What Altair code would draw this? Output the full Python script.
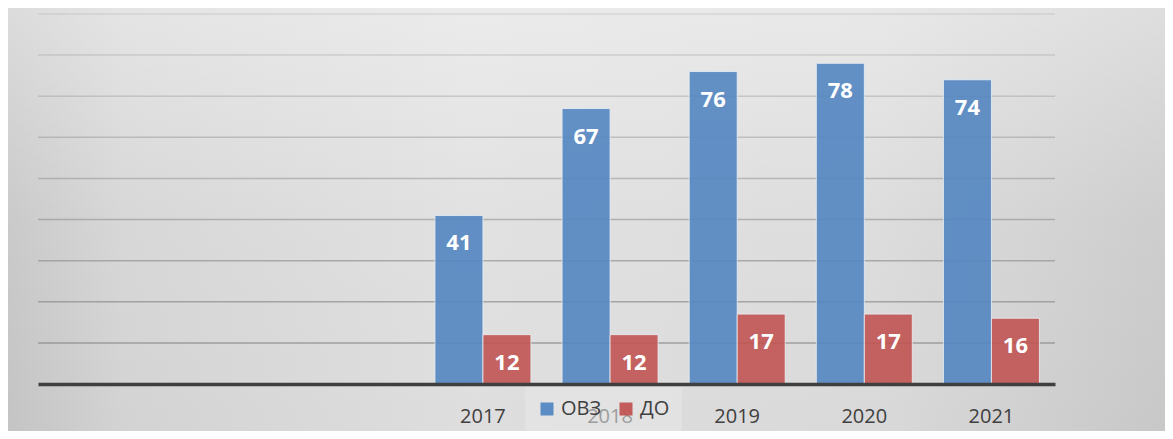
import altair as alt
import pandas as pd

# ---- data ----
slots = ["b1", "b2", "b3", "2017", "2018", "2019", "2020", "2021"]
years = ["2017", "2018", "2019", "2020", "2021"]
ovz = [41, 67, 76, 78, 74]
do_ = [12, 12, 17, 17, 16]
series = ["ОВЗ", "ДО"]
colors = ["#5487c2", "#c15553"]
grid_values = [10, 20, 30, 40, 50, 60, 70, 80, 90]

rows = []
for y, a, b in zip(years, ovz, do_):
    rows.append({"year": y, "s": series[0], "v": a})
    rows.append({"year": y, "s": series[1], "v": b})
df = pd.DataFrame(rows)

W, H = 1017, 370
PL, PT, PR, PB = 30, 6, 110, 47

yscale = alt.Scale(domain=[0, 90], nice=False, zero=True)
xscale = alt.Scale(domain=slots, paddingInner=0.245, paddingOuter=0.1225)

bg = alt.Chart(pd.DataFrame({"k": [0]})).mark_rect(
    fill=alt.LinearGradient(
        gradient="linear", x1=0, x2=1, y1=0, y2=0,
        stops=[
            alt.GradientStop(color="#c4c4c4", offset=0),
            alt.GradientStop(color="#d3d3d3", offset=0.1),
            alt.GradientStop(color="#dedede", offset=0.4),
            alt.GradientStop(color="#d9d9d9", offset=0.75),
            alt.GradientStop(color="#c8c8c8", offset=1),
        ],
    )
).encode(x=alt.value(-PL), x2=alt.value(W + PR), y=alt.value(-PT), y2=alt.value(H + PB))

bg2 = alt.Chart(pd.DataFrame({"k": [0]})).mark_rect(
    fill=alt.LinearGradient(
        gradient="linear", x1=0, x2=0, y1=0, y2=1,
        stops=[
            alt.GradientStop(color="rgba(255,255,255,0.4)", offset=0),
            alt.GradientStop(color="rgba(255,255,255,0.1)", offset=0.5),
            alt.GradientStop(color="rgba(255,255,255,0.0)", offset=1),
        ],
    )
).encode(x=alt.value(-PL), x2=alt.value(W + PR), y=alt.value(-PT), y2=alt.value(H + PB))

grid = alt.Chart(pd.DataFrame({"g": grid_values})).mark_rule(
    color="#8a8a8a", strokeWidth=1.5
).encode(
    y=alt.Y("g:Q", scale=yscale, axis=None),
    x=alt.value(0), x2=alt.value(W),
    opacity=alt.Opacity("g:Q", scale=alt.Scale(domain=[10, 90], range=[0.75, 0.2]), legend=None),
)

base = alt.Chart(df).encode(
    x=alt.X("year:N", scale=xscale, sort=slots, title=None,
            axis=alt.Axis(labelExpr="indexof(datum.label,'b')==0 ? '' : datum.label",
                          ticks=False, grid=False, labelFontSize=20, labelColor="#404040",
                          labelFont="Open Sans", labelPadding=22,
                          domainColor="#3f3f3f", domainWidth=3.5, zindex=1,
                          labelAngle=0)),
    xOffset=alt.XOffset("s:N", scale=alt.Scale(domain=series, paddingInner=0, paddingOuter=0)),
    y=alt.Y("v:Q", scale=yscale, axis=None),
)

bars = base.mark_bar(opacity=0.9, stroke="#eef2f8", strokeWidth=1, strokeOpacity=0.8).encode(
    color=alt.Color("s:N", scale=alt.Scale(domain=series, range=colors), title=None,
                    legend=alt.Legend(orient="none", legendX=487, legendY=373,
                                      direction="horizontal", fillColor="rgba(232,232,232,0.55)",
                                      padding=12, symbolType="square", symbolSize=169,
                                      symbolStrokeWidth=0, symbolOpacity=0.95,
                                      labelFontSize=20, labelColor="#404040",
                                      labelFont="Open Sans", labelOffset=4,
                                      columnPadding=14, labelLimit=200, zindex=2))
)

labels = base.mark_text(dy=28, baseline="middle", align="center", color="white",
                        fontWeight="bold", fontSize=22, font="Open Sans").encode(
    text=alt.Text("v:Q")
)

chart = alt.layer(bg, bg2, grid, bars, labels).properties(
    width=W, height=H,
    padding={"left": PL, "top": PT, "right": PR, "bottom": PB},
    autosize=alt.AutoSizeParams(type="none"),
).configure_view(stroke=None).configure(background="white")

chart.save("out.html", embed_options={"renderer": "svg", "actions": False})
